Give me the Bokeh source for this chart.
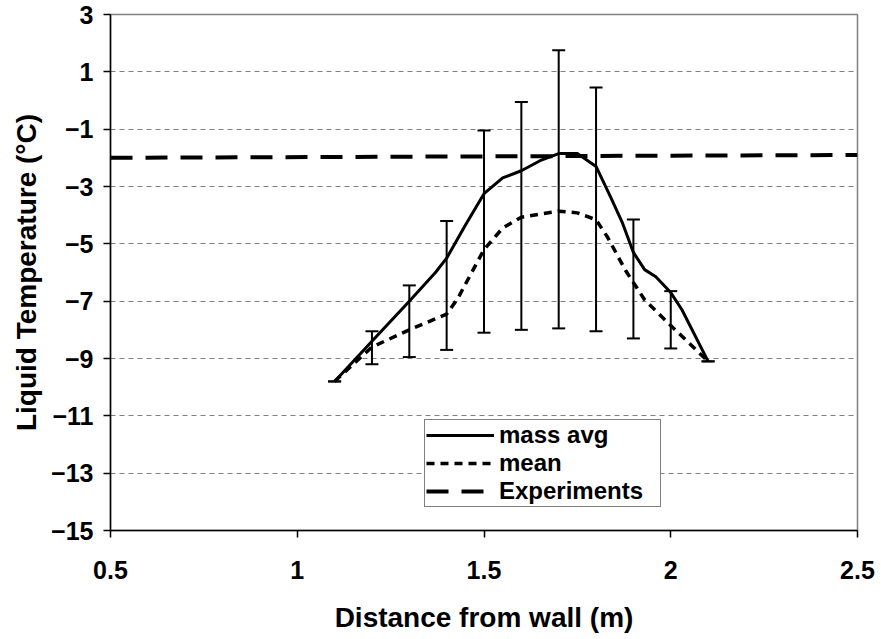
from bokeh.plotting import figure
from bokeh.models import (ColumnDataSource, Whisker, TeeHead, FixedTicker, Range1d,
                          Legend, LegendItem)
from bokeh.embed import file_html
from bokeh.resources import INLINE

# ---- data ----
mass_x = [1.1, 1.2, 1.3, 1.37, 1.4, 1.45, 1.5, 1.55, 1.6, 1.65, 1.7, 1.75, 1.8, 1.84, 1.87, 1.9, 1.93, 1.96, 2.0, 2.03, 2.1]
mass_y = [-9.8, -8.4, -7.0, -6.0, -5.5, -4.35, -3.25, -2.7, -2.45, -2.1, -1.85, -1.85, -2.3, -3.4, -4.25, -5.3, -5.9, -6.15, -6.7, -7.3, -9.1]

mean_x = [1.1, 1.2, 1.3, 1.4, 1.43, 1.5, 1.55, 1.6, 1.7, 1.75, 1.8, 1.83, 1.88, 1.93, 2.0, 2.1]
mean_y = [-9.8, -8.6, -8.0, -7.45, -6.9, -5.2, -4.45, -4.07, -3.86, -3.92, -4.16, -4.75, -5.95, -6.95, -7.85, -9.1]

eb_x = [1.1, 1.2, 1.3, 1.4, 1.5, 1.6, 1.7, 1.8, 1.9, 2.0, 2.1]
eb_upper = [-9.8, -8.05, -6.45, -4.2, -1.05, -0.05, 1.75, 0.45, -4.15, -6.65, -9.1]
eb_lower = [-9.8, -9.2, -8.95, -8.7, -8.1, -8.0, -7.95, -8.05, -8.3, -8.65, -9.1]

exp_x = [0.5, 2.5]
exp_y = [-2.0, -1.9]

x_ticks = [0.5, 1.0, 1.5, 2.0, 2.5]
y_ticks = [3, 1, -1, -3, -5, -7, -9, -11, -13, -15]

FONT = "Liberation Sans"

p = figure(width=881, height=639, output_backend="svg", toolbar_location=None,
           x_range=Range1d(0.5, 2.5), y_range=Range1d(-15, 3),
           min_border_left=110, min_border_right=24, min_border_top=14, min_border_bottom=109)

p.outline_line_color = "#808080"
p.outline_line_width = 1.5
p.background_fill_color = "white"
p.border_fill_color = "white"

p.xgrid.grid_line_color = None
p.ygrid.grid_line_color = "#808080"
p.ygrid.grid_line_dash = "5 4"
p.ygrid.grid_line_width = 1

for ax in (p.xaxis[0], p.yaxis[0]):
    ax.axis_line_color = "black"
    ax.axis_line_width = 1.5
    ax.major_tick_line_color = "black"
    ax.major_tick_line_width = 1.5
    ax.major_tick_out = 7
    ax.major_tick_in = 0
    ax.minor_tick_line_color = None
    ax.major_label_text_font = FONT
    ax.major_label_text_font_style = "bold"
    ax.major_label_text_font_size = "25px"
    ax.major_label_text_color = "black"
    ax.axis_label_text_font = FONT
    ax.axis_label_text_font_style = "bold"
    ax.axis_label_text_font_size = "28px"
    ax.axis_label_text_color = "black"

p.xaxis.ticker = FixedTicker(ticks=x_ticks)
p.yaxis.ticker = FixedTicker(ticks=y_ticks)
p.xaxis.major_label_overrides = {0.5: "0.5", 1.0: "1", 1.5: "1.5", 2.0: "2", 2.5: "2.5"}
p.xaxis.axis_label = "Distance from wall (m)"
p.yaxis.axis_label = "Liquid Temperature (°C)"
p.xaxis.major_label_standoff = 23
p.xaxis.axis_label_standoff = 20
p.yaxis.major_label_standoff = 10
p.yaxis.axis_label_standoff = 6

# error bars
eb_src = ColumnDataSource(dict(x=eb_x, upper=eb_upper, lower=eb_lower))
wh = Whisker(source=eb_src, base="x", upper="upper", lower="lower",
             line_color="black", line_width=2,
             upper_head=TeeHead(size=13, line_color="black", line_width=2),
             lower_head=TeeHead(size=13, line_color="black", line_width=2))
p.add_layout(wh)

r_exp = p.line(exp_x, exp_y, line_color="black", line_width=4, line_dash="22 13")
r_mass = p.line(mass_x, mass_y, line_color="black", line_width=3, line_join="round")
r_mean = p.line(mean_x, mean_y, line_color="black", line_width=3.5, line_dash="8 6")

legend = Legend(items=[LegendItem(label="mass avg", renderers=[r_mass]),
                       LegendItem(label="mean", renderers=[r_mean]),
                       LegendItem(label="Experiments", renderers=[r_exp])],
                location=(314, 23))
legend.label_text_font = FONT
legend.label_text_font_style = "bold"
legend.label_text_font_size = "24px"
legend.label_text_line_height = 1.0
legend.label_text_color = "black"
legend.border_line_color = "black"
legend.border_line_width = 1.5
legend.background_fill_color = "white"
legend.background_fill_alpha = 1
legend.glyph_width = 68
legend.glyph_height = 20
legend.label_height = 20
legend.label_width = 160
legend.label_standoff = 5
legend.spacing = 0
legend.padding = 1
legend.margin = 0
p.add_layout(legend, "center")

open("out.html", "w").write(file_html(p, INLINE))
